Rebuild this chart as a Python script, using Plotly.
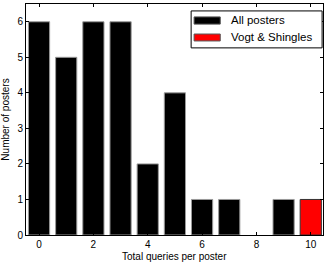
import plotly.graph_objects as go

queries = [0, 1, 2, 3, 4, 5, 6, 7, 8, 9, 10]
all_posters = [6, 5, 6, 6, 2, 4, 1, 1, 0, 1, 0]
vogt_x = [10]
vogt_counts = [1]
x_ticks = [0, 2, 4, 6, 8, 10]
y_ticks = [0, 1, 2, 3, 4, 5, 6]
series_names = ["All posters", "Vogt &amp; Shingles"]
series_colors = ["black", "#ff0000"]

outline_widths = [1 if v > 0 else 0 for v in all_posters]

fig = go.Figure()
fig.add_trace(go.Bar(x=queries, y=all_posters, name=series_names[0], width=0.78,
                     marker=dict(color=series_colors[0],
                                 line=dict(color="#9a9a9a", width=outline_widths))))
fig.add_trace(go.Bar(x=vogt_x, y=vogt_counts, name=series_names[1], width=0.78,
                     marker=dict(color=series_colors[1], line=dict(color="#333333", width=1))))

axis_common = dict(showline=True, linecolor="black", linewidth=1, mirror="ticks",
                   ticks="inside", ticklen=3, tickcolor="black", showgrid=False,
                   zeroline=False, automargin=False,
                   tickfont=dict(size=10, color="black"))
fig.update_layout(
    width=329, height=263, barmode="overlay",
    margin=dict(l=26, r=6, t=4, b=28),
    paper_bgcolor="white", plot_bgcolor="white",
    font=dict(family="Liberation Sans, Arial, sans-serif", size=10, color="black"),
    xaxis=dict(range=[-0.48, 10.45], tickvals=x_ticks, **axis_common),
    yaxis=dict(range=[0, 6.5], tickvals=y_ticks,
               title=dict(text="Number of posters", font=dict(size=10)),
               **axis_common),
    showlegend=False,
)

# x-axis title
fig.add_annotation(text="Total queries per poster", xref="paper", yref="paper",
                   x=0.5, y=-0.095, xanchor="center", yanchor="middle",
                   showarrow=False, font=dict(size=10))

# matplotlib-style legend box
fig.add_shape(type="rect", xref="paper", yref="paper", x0=0.556, x1=0.997,
              y0=0.810, y1=0.970, line=dict(color="black", width=1), fillcolor="white")
rows = [(0.944, 0.913, 0.929), (0.870, 0.840, 0.855)]
for (ya, yb, yt), nm, col in zip(rows, series_names, series_colors):
    fig.add_shape(type="rect", xref="paper", yref="paper", x0=0.566, x1=0.654,
                  y0=yb, y1=ya, line=dict(color="#555555", width=1), fillcolor=col)
    fig.add_annotation(text=nm, xref="paper", yref="paper", x=0.684, y=yt,
                       xanchor="left", yanchor="middle", showarrow=False,
                       font=dict(size=11.5))

fig.write_html("out.html", config={"displayModeBar": False},
               post_script="document.body.style.margin='0';document.body.style.overflow='hidden';")
